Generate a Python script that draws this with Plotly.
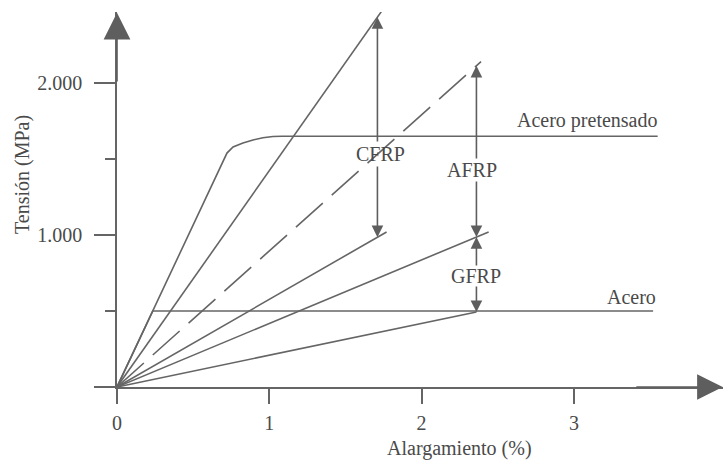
import plotly.graph_objects as go

# ---------------- data ----------------
x_ticks = [0, 1, 2, 3]
x_tick_labels = ["0", "1", "2", "3"]
y_ticks = [0, 1000, 2000]
y_tick_labels = ["", "1.000", "2.000"]
y_minor_ticks = [500, 1500]

# Acero pretensado (prestressing steel)
pre_x = [0, 0.722, 0.762, 0.827, 0.893, 0.958, 1.024, 1.08, 3.55]
pre_y = [0, 1539, 1579, 1605, 1625, 1640, 1648, 1650, 1650]
# Acero (reinforcing steel)
steel_x = [0, 0.235, 3.52]
steel_y = [0, 500, 500]

# FRP limit lines (linear from the origin to an end point)
frp_end_x = [1.75, 1.77, 2.39, 2.44, 2.36]
frp_end_y = [2490, 1020, 2140, 1020, 493]
frp_dash = ["solid", "solid", "dash", "solid", "solid"]

# Range arrows between FRP limit lines
range_labels = ["CFRP", "AFRP", "GFRP"]
range_x = [1.71, 2.36, 2.36]
range_top_line = [0, 2, 3]
range_bottom_line = [1, 3, 4]
range_gap_low = [1461, 1362, 671]
range_gap_high = [1605, 1493, 789]
label_x = [1.727, 2.33, 2.36]

# Series labels
series_labels = ["Acero pretensado", "Acero"]
series_label_x = [3.565, 3.55]
series_label_y = [1750, 592]

x_max = 3.979
y_max = 2467

LINE = "#656565"
HEAD = "#5e5e5e"
TEXT = "#4a4a4a"
FONT = "Liberation Serif, Times New Roman, serif"

fig = go.Figure()

fig.add_trace(go.Scatter(x=pre_x, y=pre_y, mode="lines",
                         line=dict(color=LINE, width=1.6), hoverinfo="skip"))
fig.add_trace(go.Scatter(x=steel_x, y=steel_y, mode="lines",
                         line=dict(color=LINE, width=1.6), hoverinfo="skip"))
for ex, ey, dash in zip(frp_end_x, frp_end_y, frp_dash):
    fig.add_trace(go.Scatter(
        x=[0, ex], y=[0, ey], mode="lines",
        line=dict(color=LINE, width=1.6,
                  dash="36px,12px" if dash == "dash" else "solid"),
        hoverinfo="skip"))

annotations = []

def arrow(x_tip, y_tip, x_tail, y_tail, size, width=1.6):
    return dict(x=x_tip, y=y_tip, ax=x_tail, ay=y_tail,
                xref="x", yref="y", axref="x", ayref="y",
                text="", showarrow=True, arrowhead=2, arrowside="end",
                arrowsize=size, arrowwidth=width, arrowcolor=HEAD)

for i, lab in enumerate(range_labels):
    xa = range_x[i]
    ti = range_top_line[i]
    bi = range_bottom_line[i]
    y_top = frp_end_y[ti] / frp_end_x[ti] * xa
    y_bot = frp_end_y[bi] / frp_end_x[bi] * xa
    annotations.append(arrow(xa, y_top, xa, range_gap_high[i], 1.45))
    annotations.append(arrow(xa, y_bot, xa, range_gap_low[i], 1.45))
    annotations.append(dict(
        x=label_x[i], y=(range_gap_low[i] + range_gap_high[i]) / 2,
        xref="x", yref="y", text=lab, showarrow=False,
        font=dict(family=FONT, size=20, color=TEXT),
        xanchor="center", yanchor="middle"))

for lab, lx, ly in zip(series_labels, series_label_x, series_label_y):
    annotations.append(dict(
        x=lx, y=ly, xref="x", yref="y", text=lab, showarrow=False,
        font=dict(family=FONT, size=20, color=TEXT),
        xanchor="right", yanchor="middle"))

# axis arrowheads
annotations.append(arrow(0, y_max - 5, 0, 2000, 3.35))
annotations.append(arrow(x_max - 0.002, 0, 3.4, 0, 3.2))

# axis titles
annotations.append(dict(
    x=2.252, y=-0.1627, xref="x", yref="paper", text="Alargamiento (%)",
    showarrow=False, font=dict(family=FONT, size=20, color=TEXT),
    xanchor="center", yanchor="middle"))
annotations.append(dict(
    x=-0.1568, y=1401, xref="paper", yref="y", text="Tensión (MPa)",
    showarrow=False, textangle=-90, font=dict(family=FONT, size=20, color=TEXT),
    xanchor="center", yanchor="middle"))

fig.update_layout(
    width=723, height=461,
    margin=dict(l=117, r=0, t=12, b=74, pad=0),
    paper_bgcolor="white", plot_bgcolor="white",
    showlegend=False,
    annotations=annotations,
    xaxis=dict(range=[0, x_max], showgrid=False, zeroline=False,
               showline=True, linecolor=LINE, linewidth=1.6,
               ticks="outside", ticklen=15, tickwidth=1.6, tickcolor=LINE,
               tickvals=x_ticks, ticktext=x_tick_labels,
               tickfont=dict(family=FONT, size=20, color=TEXT),
               ticklabelstandoff=2),
    yaxis=dict(range=[0, y_max], showgrid=False, zeroline=False,
               showline=True, linecolor=LINE, linewidth=1.6,
               ticks="outside", ticklen=21, tickwidth=1.6, tickcolor=LINE,
               tickvals=y_ticks, ticktext=y_tick_labels,
               tickfont=dict(family=FONT, size=20, color=TEXT),
               ticklabelstandoff=8,
               minor=dict(tickvals=y_minor_ticks, ticks="outside", ticklen=10,
                          tickwidth=1.6, tickcolor=LINE, showgrid=False)),
)

fig.write_html("out.html")
